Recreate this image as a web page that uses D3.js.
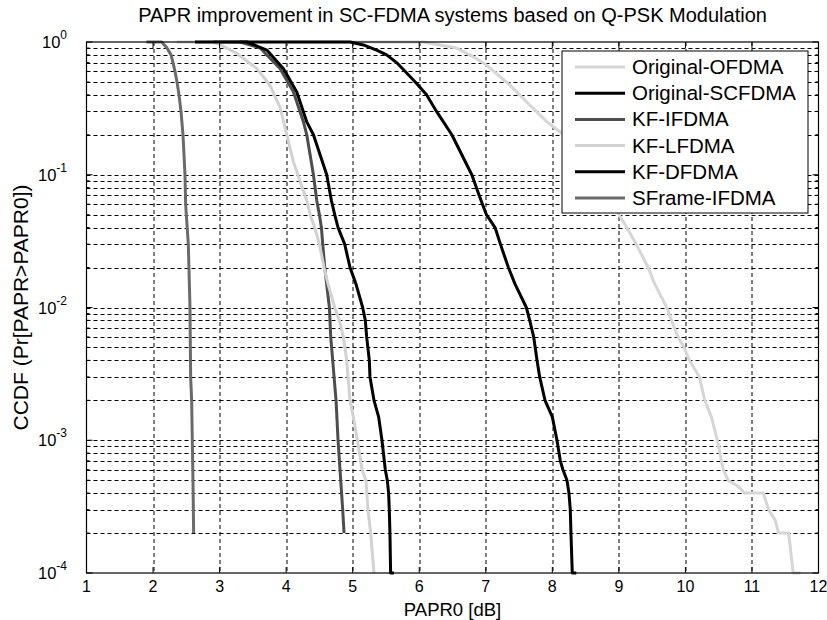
<!DOCTYPE html>
<html>
<head>
<meta charset="utf-8">
<script src="https://cdn.jsdelivr.net/npm/d3@7"></script>
<style>
  body { margin: 0; background: #fff; }
  svg text { font-family: "Liberation Sans", Arial, Helvetica, sans-serif; fill: #000; }
</style>
</head>
<body>
<svg id="chart" width="827" height="620"></svg>
<script>
// CCDF curves: [PAPR0 dB, probability]
const originalOfdma = [[4.0, 1], [6.06, 1], [6.56, 0.9], [6.8, 0.78], [7.01, 0.67], [7.36, 0.475], [7.66, 0.335],
  [7.92, 0.25], [8.17, 0.2], [8.6, 0.1], [8.99, 0.051], [9.12, 0.04], [9.26, 0.03], [9.44, 0.02], [9.54, 0.015],
  [9.72, 0.01], [9.79, 0.008], [9.89, 0.006], [9.98, 0.005], [10.06, 0.004], [10.21, 0.003], [10.29, 0.002],
  [10.39, 0.0015], [10.48, 0.001], [10.54, 7e-4], [10.57, 6e-4], [10.64, 5e-4], [10.79, 4.5e-4], [10.89, 4e-4],
  [11.17, 4e-4], [11.25, 3e-4], [11.35, 2.5e-4], [11.4, 2e-4], [11.55, 2e-4], [11.62, 1e-4], [11.73, 1e-4]]
const originalScfdma = [[3.3, 1], [4.96, 1], [5.16, 0.95], [5.36, 0.87], [5.51, 0.8], [5.66, 0.7], [5.79, 0.6],
  [5.94, 0.5], [6.11, 0.4], [6.26, 0.3], [6.49, 0.2], [6.79, 0.1], [6.9, 0.07], [6.95, 0.06], [7.01, 0.05],
  [7.14, 0.04], [7.22, 0.03], [7.34, 0.02], [7.44, 0.015], [7.61, 0.01], [7.66, 0.008], [7.72, 0.006],
  [7.77, 0.004], [7.81, 0.003], [7.89, 0.002], [8.0, 0.0015], [8.07, 0.001], [8.12, 7e-4], [8.16, 6e-4],
  [8.22, 5e-4], [8.25, 4e-4], [8.27, 3e-4], [8.28, 2e-4], [8.3, 1e-4], [8.36, 1e-4]]
const kfIfdma = [[2.9, 1], [3.31, 1], [3.61, 0.9], [3.91, 0.63], [4.11, 0.42], [4.26, 0.25], [4.31, 0.2],
  [4.41, 0.1], [4.46, 0.064], [4.5, 0.05], [4.53, 0.04], [4.55, 0.03], [4.58, 0.02], [4.65, 0.01], [4.67, 0.006],
  [4.7, 0.004], [4.72, 0.003], [4.75, 0.002], [4.78, 0.001], [4.82, 5e-4], [4.85, 3e-4], [4.87, 2e-4]]
const kfLfdma = [[2.36, 1], [2.9, 1], [3.01, 0.95], [3.26, 0.82], [3.56, 0.63], [3.76, 0.47], [3.91, 0.32],
  [4.01, 0.2], [4.11, 0.125], [4.21, 0.089], [4.31, 0.064], [4.36, 0.05], [4.43, 0.04], [4.5, 0.03], [4.57, 0.02],
  [4.63, 0.015], [4.73, 0.01], [4.8, 0.008], [4.86, 0.006], [4.91, 0.004], [4.93, 0.003], [4.96, 0.002],
  [5.01, 0.0015], [5.07, 0.001], [5.12, 7e-4], [5.14, 6e-4], [5.2, 5e-4], [5.23, 3e-4], [5.27, 2e-4], [5.32, 1e-4]]
const kfDfdma = [[2.63, 1], [3.41, 1], [3.71, 0.87], [3.96, 0.63], [4.16, 0.42], [4.31, 0.25], [4.41, 0.2],
  [4.61, 0.1], [4.68, 0.064], [4.73, 0.05], [4.78, 0.04], [4.88, 0.03], [4.96, 0.02], [5.05, 0.015], [5.15, 0.01],
  [5.19, 0.008], [5.21, 0.006], [5.25, 0.004], [5.26, 0.003], [5.32, 0.002], [5.39, 0.0015], [5.44, 0.001],
  [5.49, 6e-4], [5.52, 5e-4], [5.54, 4e-4], [5.55, 3e-4], [5.56, 2e-4], [5.57, 1e-4], [5.62, 1e-4]]
const sframeIfdma = [[1.9, 1], [2.13, 1], [2.21, 0.9], [2.27, 0.8], [2.3, 0.7], [2.33, 0.6], [2.36, 0.5],
  [2.39, 0.4], [2.42, 0.3], [2.45, 0.2], [2.48, 0.1], [2.49, 0.06], [2.5, 0.05], [2.53, 0.03], [2.555, 0.01],
  [2.565, 0.003], [2.58, 0.002], [2.59, 0.001], [2.6, 5e-4], [2.61, 2e-4]]

const seriesNames = ['Original-OFDMA', 'Original-SCFDMA', 'KF-IFDMA', 'KF-LFDMA', 'KF-DFDMA', 'SFrame-IFDMA']
const seriesData = [originalOfdma, originalScfdma, kfIfdma, kfLfdma, kfDfdma, sframeIfdma]
const seriesColors = ['#d6d6d6', '#000000', '#4d4d4d', '#d2d2d2', '#000000', '#6a6a6a']

const xTicks = [1, 2, 3, 4, 5, 6, 7, 8, 9, 10, 11, 12]
const yDecades = [0, -1, -2, -3, -4]

const margin = { left: 86.5, right: 8.5, top: 42, bottom: 47 }
const width = 827
const height = 620
const plotW = width - margin.left - margin.right
const plotH = height - margin.top - margin.bottom

const svg = d3.select('#chart')
const g = svg.append('g').attr('transform', `translate(${margin.left},${margin.top})`)

const x = d3.scaleLinear().domain([1, 12]).range([0, plotW])
const y = d3.scaleLog().domain([1e-4, 1]).range([plotH, 0])

// grid: every integer on x, every k*10^n on y
const minorY = []
yDecades.slice(1).forEach(e => {
  for (let k = 1; k <= 9; k++) minorY.push(k * Math.pow(10, e))
})
const gridY = minorY.filter(v => v > 1e-4 && v < 1)

g.append('g').selectAll('line')
  .data(gridY)
  .enter().append('line')
  .attr('x1', 0).attr('x2', plotW)
  .attr('y1', d => Math.round(y(d)) + 0.5).attr('y2', d => Math.round(y(d)) + 0.5)
  .attr('stroke', '#000').attr('stroke-width', 1).attr('stroke-dasharray', '4,3')

g.append('g').selectAll('line')
  .data(xTicks.slice(1, -1))
  .enter().append('line')
  .attr('x1', d => Math.round(x(d)) + 0.5).attr('x2', d => Math.round(x(d)) + 0.5)
  .attr('y1', 0).attr('y2', plotH)
  .attr('stroke', '#000').attr('stroke-width', 1).attr('stroke-dasharray', '4,3')

// curves
const line = d3.line()
  .x(d => x(d[0]))
  .y(d => y(d[1]))

const clip = svg.append('clipPath').attr('id', 'plotClip')
clip.append('rect').attr('x', -2).attr('y', -2).attr('width', plotW + 4).attr('height', plotH + 4)

g.append('g').attr('clip-path', 'url(#plotClip)')
  .selectAll('path')
  .data(seriesData)
  .enter().append('path')
  .attr('d', line)
  .attr('fill', 'none')
  .attr('stroke', (d, i) => seriesColors[i])
  .attr('stroke-width', 3)
  .attr('stroke-linejoin', 'round')

// box
g.append('rect')
  .attr('x', 0).attr('y', 0).attr('width', plotW).attr('height', plotH)
  .attr('fill', 'none').attr('stroke', '#000').attr('stroke-width', 1.2)

// tick marks (inside, both sides)
const ticks = g.append('g').attr('stroke', '#000').attr('stroke-width', 1)
xTicks.forEach(v => {
  const px = x(v)
  ticks.append('line').attr('x1', px).attr('x2', px).attr('y1', plotH).attr('y2', plotH - 6)
  ticks.append('line').attr('x1', px).attr('x2', px).attr('y1', 0).attr('y2', 6)
})
minorY.concat([1]).forEach(v => {
  const py = y(v)
  const major = Math.abs(Math.log10(v) - Math.round(Math.log10(v))) < 1e-9
  const len = major ? 6 : 3
  ticks.append('line').attr('x1', 0).attr('x2', len).attr('y1', py).attr('y2', py)
  ticks.append('line').attr('x1', plotW).attr('x2', plotW - len).attr('y1', py).attr('y2', py)
})

// tick labels
g.append('g').selectAll('text')
  .data(xTicks)
  .enter().append('text')
  .attr('x', d => x(d))
  .attr('y', plotH + 19)
  .attr('text-anchor', 'middle')
  .attr('font-size', 16)
  .text(d => d)

const yl = g.append('g').selectAll('text')
  .data(yDecades)
  .enter().append('text')
  .attr('x', -19.5)
  .attr('y', d => y(Math.pow(10, d)) + 6)
  .attr('text-anchor', 'end')
  .attr('font-size', 16.5)
yl.append('tspan').text('10')
yl.append('tspan').attr('dy', -9).attr('font-size', 12).text(d => d)

// titles
svg.append('text')
  .attr('x', margin.left + plotW / 2).attr('y', 22)
  .attr('text-anchor', 'middle').attr('font-size', 20)
  .text('PAPR improvement in SC-FDMA systems based on Q-PSK Modulation')

svg.append('text')
  .attr('x', margin.left + plotW / 2).attr('y', 616)
  .attr('text-anchor', 'middle').attr('font-size', 18.5)
  .text('PAPR0 [dB]')

svg.append('text')
  .attr('transform', `translate(28,${margin.top + plotH / 2}) rotate(-90)`)
  .attr('text-anchor', 'middle').attr('font-size', 21)
  .text('CCDF (Pr[PAPR>PAPR0])')

// legend
const legend = svg.append('g').attr('transform', 'translate(562,51)')
legend.append('rect')
  .attr('width', 246).attr('height', 162)
  .attr('fill', '#fff').attr('stroke', '#000').attr('stroke-width', 1)
const rows = legend.selectAll('g.row')
  .data(seriesNames)
  .enter().append('g')
  .attr('class', 'row')
  .attr('transform', (d, i) => `translate(0,${16 + i * 26.2})`)
rows.append('line')
  .attr('x1', 13).attr('x2', 63)
  .attr('stroke', (d, i) => seriesColors[i]).attr('stroke-width', 3)
rows.append('text')
  .attr('x', 70).attr('y', 7)
  .attr('font-size', 20.5)
  .text(d => d)
</script>
</body>
</html>
